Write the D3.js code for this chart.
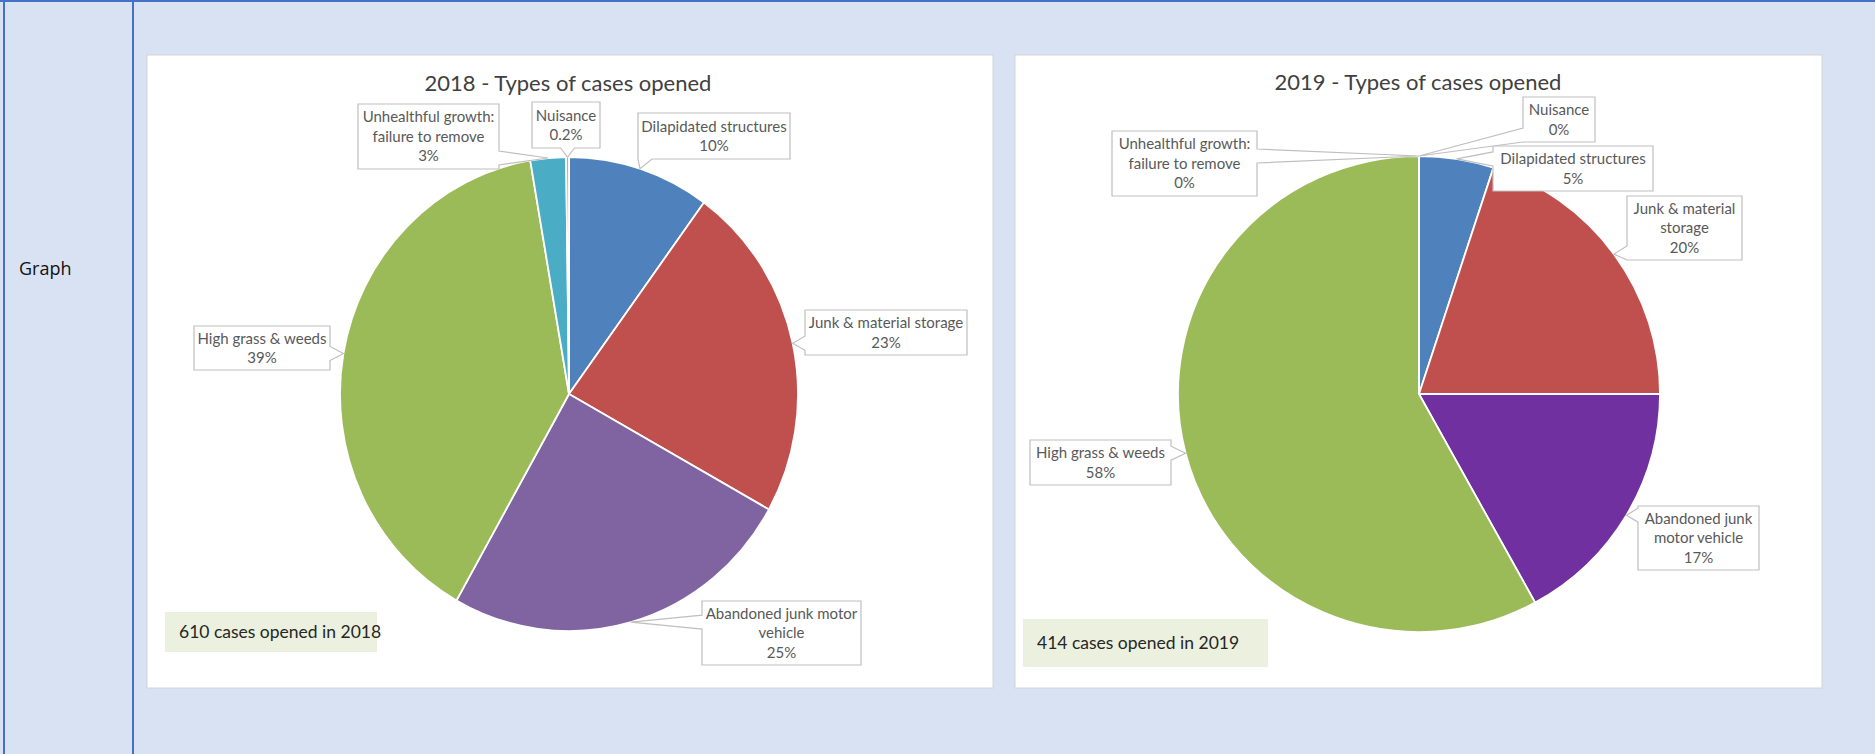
<!DOCTYPE html>
<html>
<head>
<meta charset="utf-8">
<script src="https://cdn.jsdelivr.net/npm/d3@7/dist/d3.min.js"></script>
<style>
  html, body { margin: 0; padding: 0; background: #d9e2f3; }
  svg { display: block; }
</style>
</head>
<body>
<div id="chart"></div>
<script>
// ---- data ----
const categories = ["Dilapidated structures", "Junk & material storage", "Abandoned junk motor vehicle",
  "High grass & weeds", "Unhealthful growth: failure to remove", "Nuisance"];
// slice shares (labels below are the printed, rounded ones)
const values2018 = [10, 23, 25, 39, 2.5, 0.2];
const values2019 = [5, 20, 17, 58, 0, 0];
const pctLabels2018 = ["10%", "23%", "25%", "39%", "3%", "0.2%"];
const pctLabels2019 = ["5%", "20%", "17%", "58%", "0%", "0%"];
// how each chart wraps the category names
const nameLines2018 = [["Dilapidated structures"], ["Junk & material storage"], ["Abandoned junk motor", "vehicle"],
  ["High grass & weeds"], ["Unhealthful growth:", "failure to remove"], ["Nuisance"]];
const nameLines2019 = [["Dilapidated structures"], ["Junk & material", "storage"], ["Abandoned junk", "motor vehicle"],
  ["High grass & weeds"], ["Unhealthful growth:", "failure to remove"], ["Nuisance"]];
const colors2018 = ["#4f81bd", "#c0504d", "#8064a2", "#9bbb59", "#4bacc6", "#f79646"];
const colors2019 = ["#4f81bd", "#c0504d", "#7030a0", "#9bbb59", "#4bacc6", "#f79646"];
const titles = ["2018 - Types of cases opened", "2019 - Types of cases opened"];
const totals = ["610 cases opened in 2018", "414 cases opened in 2019"];

// ---- layout ----
const W = 1875, H = 754;
const charts = [
  {
    values: values2018, pct: pctLabels2018, names: nameLines2018, colors: colors2018,
    title: titles[0], total: totals[0],
    panel: { x: 147, y: 55, w: 846, h: 633 },
    cx: 569, cy: 394, rx: 229, ry: 237, titleX: 568, titleY: 91,
    totalBox: { x: 165, y: 612, w: 212, h: 40 },
    boxes: [
      { x: 638, y: 113, w: 152, h: 46 },
      { x: 805, y: 310, w: 162, h: 45 },
      { x: 702, y: 601, w: 159, h: 64 },
      { x: 194, y: 326, w: 136, h: 44 },
      { x: 358, y: 104, w: 141, h: 65 },
      { x: 532, y: 102, w: 68, h: 46 }
    ]
  },
  {
    values: values2019, pct: pctLabels2019, names: nameLines2019, colors: colors2019,
    title: titles[1], total: totals[1],
    panel: { x: 1015, y: 55, w: 807, h: 633 },
    cx: 1419, cy: 394, rx: 241, ry: 238, titleX: 1418, titleY: 90,
    totalBox: { x: 1023, y: 619, w: 245, h: 48 },
    boxes: [
      { x: 1493, y: 146, w: 160, h: 45 },
      { x: 1627, y: 196, w: 115, h: 64 },
      { x: 1638, y: 506, w: 121, h: 64 },
      { x: 1030, y: 440, w: 141, h: 45 },
      { x: 1112, y: 131, w: 145, h: 65 },
      { x: 1523, y: 97, w: 72, h: 45 }
    ]
  }
];

const svg = d3.select("#chart").append("svg")
  .attr("width", W).attr("height", H);

// table background and borders
svg.append("rect").attr("width", W).attr("height", H).attr("fill", "#d9e2f3");
svg.append("line").attr("x1", 0).attr("x2", W).attr("y1", 1).attr("y2", 1)
  .attr("stroke", "#4472c4").attr("stroke-width", 2);
svg.append("line").attr("x1", 4).attr("x2", 4).attr("y1", 0).attr("y2", H)
  .attr("stroke", "#4472c4").attr("stroke-width", 2);
svg.append("line").attr("x1", 133).attr("x2", 133).attr("y1", 0).attr("y2", H)
  .attr("stroke", "#4472c4").attr("stroke-width", 2);
svg.append("text").attr("x", 19).attr("y", 275)
  .style("font-family", "'Open Sans', sans-serif").style("font-size", "18px").attr("fill", "#111")
  .text("Graph");

const R = 200; // base radius, ellipse made by scaling
const pie = d3.pie().sort(null).value(d => d);
const arc = d3.arc().innerRadius(0).outerRadius(R);
const edge = d3.arc().innerRadius(R).outerRadius(R);

function clamp(v, a, b) { return Math.max(a, Math.min(b, v)); }

// box outline with a wedge pointing at the slice
function calloutPath(b, t) {
  const x0 = b.x, y0 = b.y, x1 = b.x + b.w, y1 = b.y + b.h, hw = 7;
  let side;
  if (t[0] < x0) side = "left";
  else if (t[0] > x1) side = "right";
  else if (t[1] < y0) side = "top";
  else side = "bottom";
  let p = "M" + x0 + "," + y0;
  if (side === "top") { const c = clamp(t[0], x0 + hw, x1 - hw); p += "H" + (c - hw) + "L" + t + "L" + (c + hw) + "," + y0; }
  p += "H" + x1;
  if (side === "right") { const c = clamp(t[1], y0 + hw, y1 - hw); p += "V" + (c - hw) + "L" + t + "L" + x1 + "," + (c + hw); }
  p += "V" + y1;
  if (side === "bottom") { const c = clamp(t[0], x0 + hw, x1 - hw); p += "H" + (c + hw) + "L" + t + "L" + (c - hw) + "," + y1; }
  p += "H" + x0;
  if (side === "left") { const c = clamp(t[1], y0 + hw, y1 - hw); p += "V" + (c + hw) + "L" + t + "L" + x0 + "," + (c - hw); }
  return p + "Z";
}

charts.forEach(function (c) {
  const g = svg.append("g");

  g.append("rect")
    .attr("x", c.panel.x).attr("y", c.panel.y)
    .attr("width", c.panel.w).attr("height", c.panel.h)
    .attr("fill", "#fff").attr("stroke", "#d4d4d4").attr("stroke-width", 1);

  g.append("text")
    .attr("x", c.titleX).attr("y", c.titleY)
    .attr("text-anchor", "middle")
    .style("font-family", "Lato, sans-serif").style("font-size", "22px")
    .attr("fill", "#404040")
    .text(c.title);

  const arcs = pie(c.values);

  g.append("g")
    .attr("transform", "translate(" + c.cx + "," + c.cy + ") scale(" + (c.rx / R) + "," + (c.ry / R) + ")")
    .selectAll("path")
    .data(arcs)
    .enter().append("path")
    .attr("d", arc)
    .attr("fill", (d, i) => c.colors[i])
    .attr("stroke", "#fff")
    .attr("stroke-width", 1.8)
    .attr("vector-effect", "non-scaling-stroke");

  // callout labels
  arcs.forEach(function (d, i) {
    const e = edge.centroid(d);
    const tip = [c.cx + e[0] * c.rx / R, c.cy + e[1] * c.ry / R];
    const b = c.boxes[i];
    g.append("path")
      .attr("d", calloutPath(b, tip))
      .attr("fill", "#fff")
      .attr("stroke", "#bfbfbf")
      .attr("stroke-width", 1.2);
    const lines = c.names[i].concat([c.pct[i]]);
    const lh = 19.5;
    const top = b.y + b.h / 2 - (lines.length - 1) * lh / 2;
    const t = g.append("text")
      .attr("text-anchor", "middle")
      .style("font-family", "Lato, sans-serif").style("font-size", "15px")
      .attr("fill", "#595959");
    lines.forEach(function (s, k) {
      t.append("tspan").attr("x", b.x + b.w / 2).attr("y", top + k * lh).attr("dy", "0.35em").text(s);
    });
  });

  g.append("rect")
    .attr("x", c.totalBox.x).attr("y", c.totalBox.y)
    .attr("width", c.totalBox.w).attr("height", c.totalBox.h)
    .attr("fill", "#ebf1de");
  g.append("text")
    .attr("x", c.totalBox.x + 14).attr("y", c.totalBox.y + c.totalBox.h / 2)
    .attr("dy", "0.35em")
    .style("font-family", "Lato, sans-serif").style("font-size", "17.5px")
    .attr("fill", "#262626")
    .text(c.total);
});
</script>
</body>
</html>
